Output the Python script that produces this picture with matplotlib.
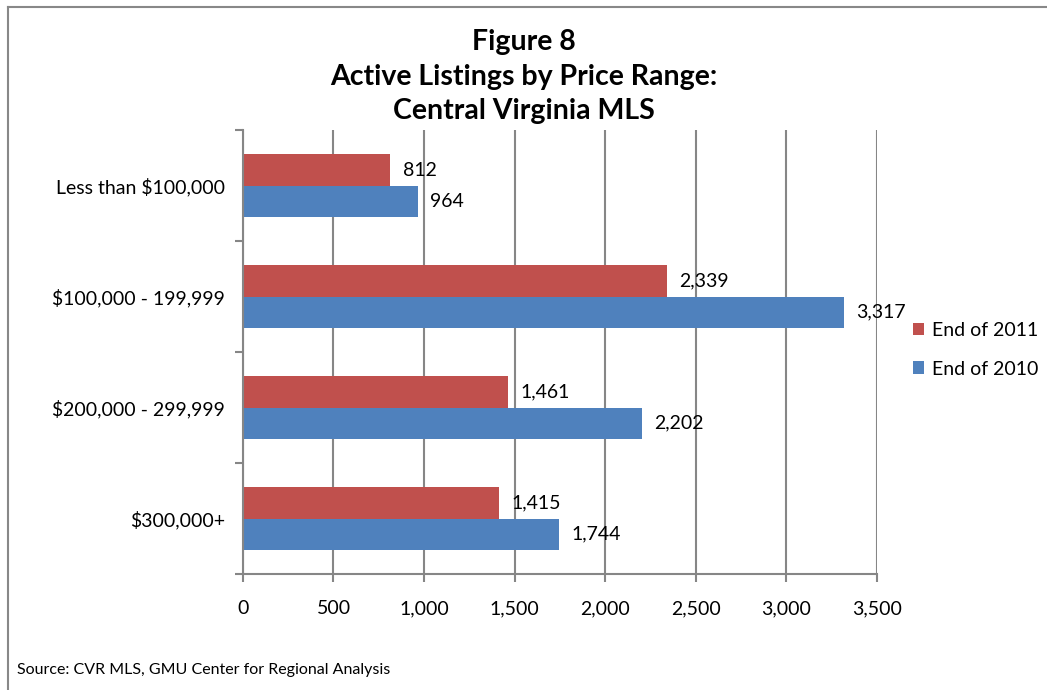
import numpy as np
import matplotlib.pyplot as plt
from matplotlib.lines import Line2D

categories = ['Less than $100,000', '$100,000 - 199,999', '$200,000 - 299,999', '$300,000+']
end_2011 = [812, 2339, 1461, 1415]
end_2010 = [964, 3317, 2202, 1744]

red = '#C0504D'
blue = '#4F81BD'
grid_col = '#868686'

plt.rcParams['font.family'] = ['Lato', 'DejaVu Sans']

fig = plt.figure(figsize=(10.47, 6.9), dpi=100)
ax = fig.add_axes([0.232, 0.168, 0.6056, 0.6435])

y = np.arange(len(categories))
h = 0.28
b1 = ax.barh(y - h / 2, end_2011, height=h, color=red, label='End of 2011')
b2 = ax.barh(y + h / 2, end_2010, height=h, color=blue, label='End of 2010')

for bars, vals in ((b1, end_2011), (b2, end_2010)):
    for bar, v in zip(bars, vals):
        ax.annotate(f'{v:,}', (bar.get_width(), bar.get_y() + bar.get_height() / 2),
                    xytext=(9, 0), textcoords='offset points',
                    va='center', ha='left', fontsize=14)

ax.set_xlim(0, 3500)
ax.set_ylim(len(categories) - 0.5, -0.5)
ax.set_xticks(np.arange(0, 3501, 500))
ax.set_xticklabels([f'{v:,}' for v in range(0, 3501, 500)], fontsize=14)
ax.set_yticks(y)
ax.set_yticklabels(categories, fontsize=14)
ax.set_yticks(np.arange(-0.5, len(categories), 1), minor=True)
ax.tick_params(axis='y', which='major', length=0, pad=13)
ax.tick_params(axis='y', which='minor', length=6, color=grid_col, width=1.5)
ax.tick_params(axis='x', length=6, color=grid_col, width=1.5, pad=13)

ax.xaxis.grid(True, color=grid_col, linewidth=1.5)
ax.set_axisbelow(True)
for s in ('top', 'right'):
    ax.spines[s].set_visible(False)
for s in ('left', 'bottom'):
    ax.spines[s].set_color(grid_col)
    ax.spines[s].set_linewidth(1.5)

handles = [b1, b2]
ax.legend(handles, ['End of 2011', 'End of 2010'], loc='center left',
          bbox_to_anchor=(0.855, 0.493), bbox_transform=fig.transFigure,
          frameon=False, fontsize=14, handlelength=0.6, handleheight=0.6,
          handletextpad=0.4, labelspacing=1.1)

fig.text(0.5, 0.889, 'Figure 8\nActive Listings by Price Range:\nCentral Virginia MLS',
         ha='center', va='center', fontsize=20.5, fontweight='bold', linespacing=1.4)

fig.text(0.016, 0.029, 'Source: CVR MLS, GMU Center for Regional Analysis', fontsize=11.5,
         va='center')

fig.add_artist(Line2D([0.008, 0.008], [0, 0.99], transform=fig.transFigure,
                      color='#888888', linewidth=1.5))
fig.add_artist(Line2D([0.008, 1.0], [0.99, 0.99], transform=fig.transFigure,
                      color='#888888', linewidth=1.5))

fig.savefig('out.png', dpi=100)
